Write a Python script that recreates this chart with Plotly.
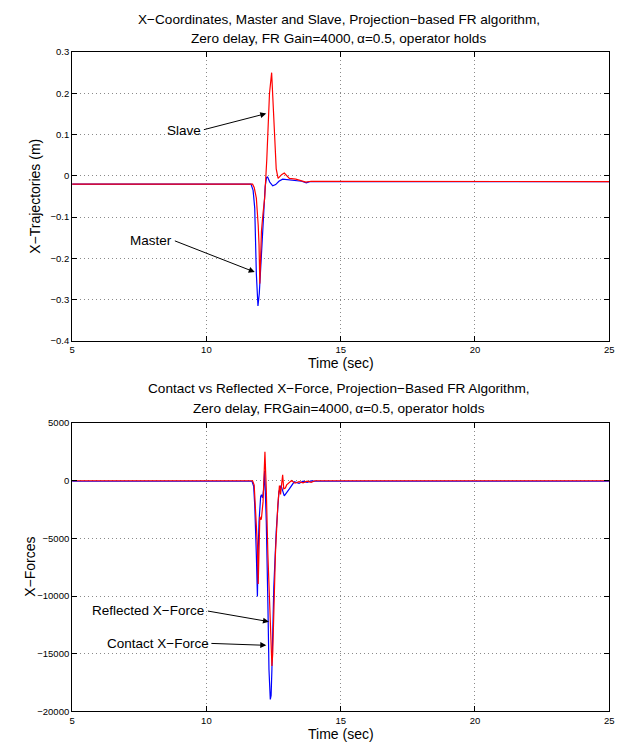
import plotly.graph_objects as go

# ---- data: X-coordinates (m) ----
t_master = [5, 11.66, 11.74, 11.80, 11.86, 11.92, 11.97, 12.01, 12.11, 12.19, 12.24, 12.28,
            12.36, 12.47, 12.58, 12.70, 12.84, 13.05, 13.30, 13.55, 13.72, 13.85, 14.00, 25]
x_master = [-0.020, -0.020, -0.035, -0.078, -0.237, -0.315, -0.285, -0.237, -0.102, -0.025,
            -0.004, -0.003, -0.015, -0.024, -0.021, -0.013, -0.008, -0.009, -0.011, -0.013,
            -0.017, -0.014, -0.014, -0.014]

t_slave = [5, 11.72, 11.78, 11.86, 11.93, 11.96, 11.99, 12.02, 12.05, 12.11, 12.17, 12.25,
           12.35, 12.43, 12.50, 12.56, 12.60, 12.67, 12.80, 12.90, 13.00, 13.09, 13.33,
           13.55, 13.70, 13.90, 25]
x_slave = [-0.020, -0.020, -0.028, -0.054, -0.120, -0.166, -0.261, -0.180, -0.134, -0.090,
           -0.054, 0.041, 0.200, 0.250, 0.160, 0.070, 0.017, -0.006, 0.003, 0.007, 0.000,
           -0.006, -0.008, -0.012, -0.015, -0.013, -0.014]

# ---- data: X-forces ----
t_contact = [5, 11.70, 11.76, 11.80, 11.86, 11.90, 11.93, 11.96, 12.02, 12.05, 12.09, 12.13,
             12.17, 12.20, 12.23, 12.29, 12.33, 12.38, 12.41, 12.44, 12.51, 12.60, 12.70,
             12.78, 12.90, 13.09, 13.27, 13.45, 13.60, 13.75, 13.90, 14.10, 25]
f_contact = [-60, -60, -500, -2130, -6400, -10030, -6000, -3550, -1400, -1220, -1500, -800,
             850, -1200, -3550, -10660, -16340, -18960, -18600, -16340, -9240, -4400, -990,
             -430, -1330, -720, -110, -250, -50, -150, -30, -60, -60]

t_reflected = [5, 11.72, 11.78, 11.84, 11.90, 11.93, 11.95, 11.97, 11.99, 12.03, 12.05, 12.11,
               12.15, 12.18, 12.21, 12.23, 12.29, 12.33, 12.35, 12.39, 12.44, 12.47, 12.50,
               12.57, 12.66, 12.72, 12.76, 12.80, 12.84, 12.88, 12.94, 12.99, 13.09, 13.17,
               13.30, 13.45, 13.60, 13.75, 13.90, 14.05, 25]
f_reflected = [-20, -20, -400, -2990, -5640, -8960, -6500, -4980, -3130, -3400, -3270, -1850,
               500, 2480, 500, -710, -6400, -9000, -9520, -12370, -16060, -15000, -12370,
               -6400, -2130, -430, -1200, -300, 490, -720, -650, -380, -200, 0, -230, -100,
               -200, -50, -150, -20, -20]

# ---- axis ticks ----
time_ticks = [5, 10, 15, 20, 25]
traj_ticks = [0.3, 0.2, 0.1, 0, -0.1, -0.2, -0.3, -0.4]
traj_labels = ["0.3", "0.2", "0.1", "0", "\u22120.1", "\u22120.2", "\u22120.3", "\u22120.4"]
force_ticks = [5000, 0, -5000, -10000, -15000, -20000]
force_labels = ["5000", "0", "\u22125000", "\u221210000", "\u221215000", "\u221220000"]

FONT = "Liberation Sans, Arial, Helvetica, sans-serif"
W, H = 631, 750


def px_x(p):
    return p / W


def px_y(p):
    return 1 - p / H


fig = go.Figure()
fig.add_trace(go.Scatter(x=t_master, y=x_master, mode="lines", line=dict(color="#0000ff", width=1.2),
                         xaxis="x", yaxis="y", showlegend=False))
fig.add_trace(go.Scatter(x=t_slave, y=x_slave, mode="lines", line=dict(color="#ff0000", width=1.2),
                         xaxis="x", yaxis="y", showlegend=False))
fig.add_trace(go.Scatter(x=t_contact, y=f_contact, mode="lines", line=dict(color="#0000ff", width=1.2),
                         xaxis="x2", yaxis="y2", showlegend=False))
fig.add_trace(go.Scatter(x=t_reflected, y=f_reflected, mode="lines", line=dict(color="#ff0000", width=1.2),
                         xaxis="x2", yaxis="y2", showlegend=False))

axis_common = dict(
    showline=True, linecolor="black", linewidth=1, mirror="ticks",
    ticks="inside", ticklen=5, tickcolor="black", tickwidth=1,
    showgrid=True, gridcolor="#8a8a8a", griddash="1px,3px", gridwidth=1,
    zeroline=False, tickfont=dict(family=FONT, size=9.5, color="black"),
)

xdom = [px_x(70), px_x(614)]
fig.update_layout(
    width=W, height=H,
    margin=dict(l=0, r=0, t=0, b=0),
    paper_bgcolor="white", plot_bgcolor="white",
    font=dict(family=FONT, color="black"),
    xaxis=dict(axis_common, domain=xdom, range=[5, 25], tickvals=time_ticks, anchor="y"),
    yaxis=dict(axis_common, domain=[px_y(340), px_y(46.7)], range=[-0.4, 0.3],
               tickvals=traj_ticks, ticktext=traj_labels, anchor="x"),
    xaxis2=dict(axis_common, domain=xdom, range=[5, 25], tickvals=time_ticks, anchor="y2"),
    yaxis2=dict(axis_common, domain=[px_y(716), px_y(423)], range=[-20000, 5000],
                tickvals=force_ticks, ticktext=force_labels, anchor="x2"),
)

ann = []
# titles
for text, py in [
    ("X\u2212Coordinates, Master and Slave, Projection\u2212based FR algorithm,", 14),
    ("Zero delay, FR Gain=4000,\u2009\u03b1=0.5, operator holds", 33),
    ("Contact vs Reflected X\u2212Force, Projection\u2212Based FR Algorithm,", 388),
    ("Zero delay, FRGain=4000,\u2009\u03b1=0.5, operator holds", 408),
]:
    ann.append(dict(text=text, x=px_x(340), y=px_y(py), xref="paper", yref="paper",
                    xanchor="center", yanchor="middle", showarrow=False,
                    font=dict(family=FONT, size=13.6, color="black")))
# axis labels
for text, px, py, angle in [
    ("Time (sec)", 342, 362, 0),
    ("Time (sec)", 342, 739, 0),
    ("X\u2212Trajectories (m)", 33, 193, -90),
    ("X\u2212Forces", 28, 569.5, -90),
]:
    ann.append(dict(text=text, x=px_x(px), y=px_y(py), xref="paper", yref="paper",
                    xanchor="center", yanchor="middle", showarrow=False, textangle=angle,
                    font=dict(family=FONT, size=14, color="black")))

# callout labels (text, centre in data coords) and arrows (tail -> head)
callouts = [
    ("Slave", 9.17, 0.111, 9.85, 0.111, 12.23, 0.151, "x", "y"),
    ("Master", 7.93, -0.156, 8.77, -0.156, 11.80, -0.233, "x", "y"),
    ("Reflected X\u2212Force", 7.83, -11280, 10.0, -11280, 12.33, -12220, "x2", "y2"),
    ("Contact X\u2212Force", 8.18, -14100, 10.13, -14100, 12.23, -14270, "x2", "y2"),
]
for text, tx, ty, ax0, ay0, hx, hy, xr, yr in callouts:
    ann.append(dict(text=text, x=tx, y=ty, xref=xr, yref=yr, showarrow=False,
                    xanchor="center", yanchor="middle",
                    font=dict(family=FONT, size=13.5, color="black")))
    ann.append(dict(text="", x=hx, y=hy, xref=xr, yref=yr, ax=ax0, ay=ay0,
                    axref=xr, ayref=yr, showarrow=True, arrowhead=2, arrowsize=1.2,
                    arrowwidth=1, arrowcolor="black", standoff=0, startstandoff=0))

fig.update_layout(annotations=ann)
fig.write_html("out.html")
